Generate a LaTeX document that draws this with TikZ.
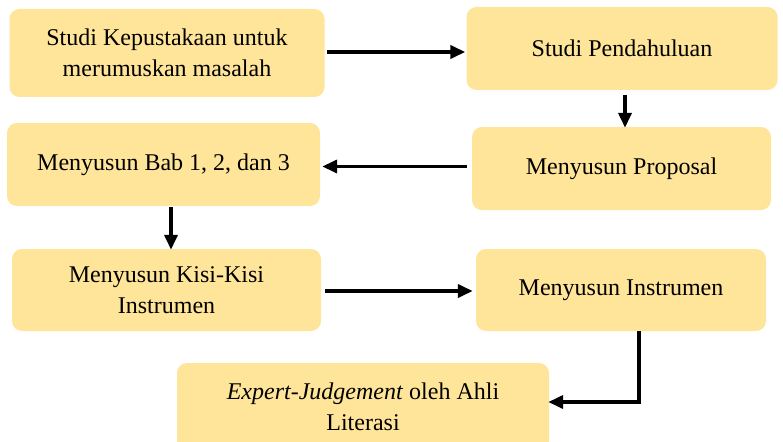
\documentclass[tikz,border=0pt]{standalone}
\usepackage{fontspec}
\setmainfont{Liberation Serif}
\usepackage{tikz}
\usetikzlibrary{arrows.meta, positioning, calc}
\usepackage{xcolor}
\definecolor{boxkuning}{RGB}{255,229,153}

\tikzset{
  tahap/.style={fill=boxkuning, rounded corners=10pt, align=center,
    inner sep=0pt, font=\fontsize{24}{31}\selectfont},
  panah/.style={-{Triangle[length=15pt,width=13pt]}, line width=3.6pt}
}

\begin{document}
\begin{tikzpicture}[x=1pt, y=-1pt]
  \useasboundingbox (0,0) rectangle (783,441);
  \node[tahap, minimum width=315pt, minimum height=88pt] (studi) at (167,53)
    {Studi Kepustakaan untuk\\merumuskan masalah};
  \node[tahap, minimum width=311pt, minimum height=83pt] (pendahuluan) at (622,48.5)
    {Studi Pendahuluan};
  \node[tahap, minimum width=299pt, minimum height=83pt] (proposal) at (621.5,168.5)
    {Menyusun Proposal};
  \node[tahap, minimum width=313pt, minimum height=83pt] (bab) at (163.5,164.5)
    {Menyusun Bab 1, 2, dan 3};
  \node[tahap, minimum width=309pt, minimum height=82pt] (kisi) at (166.5,290)
    {Menyusun Kisi-Kisi\\Instrumen};
  \node[tahap, minimum width=290pt, minimum height=82pt] (instrumen) at (621,290)
    {Menyusun Instrumen};
  \node[tahap, minimum width=372pt, minimum height=88pt] (expert) at (363,407)
    {\textit{Expert-Judgement} oleh Ahli\\Literasi};

  % alur
  \draw[panah] ($(studi.east |- 0,52)+(2,0)$) -- ($(pendahuluan.west |- 0,52)+(-1,0)$);
  \draw[panah] ($(pendahuluan.south)+(3,5)$) -- ($(proposal.north)+(3.5,1)$);
  \draw[panah] ($(proposal.west |- 0,166.5)+(-5,0)$) -- ($(bab.east |- 0,166.5)+(2,0)$);
  \draw[panah] ($(bab.south)+(7.5,1)$) -- ($(kisi.north)+(4.5,1)$);
  \draw[panah] ($(kisi.east |- 0,291)+(4,0)$) -- ($(instrumen.west |- 0,291)+(-3,0)$);
  \draw[panah] ($(instrumen.south)+(18,0)$) |- ($(expert.east |- 0,402)+(-1,0)$);
\end{tikzpicture}
\end{document}
